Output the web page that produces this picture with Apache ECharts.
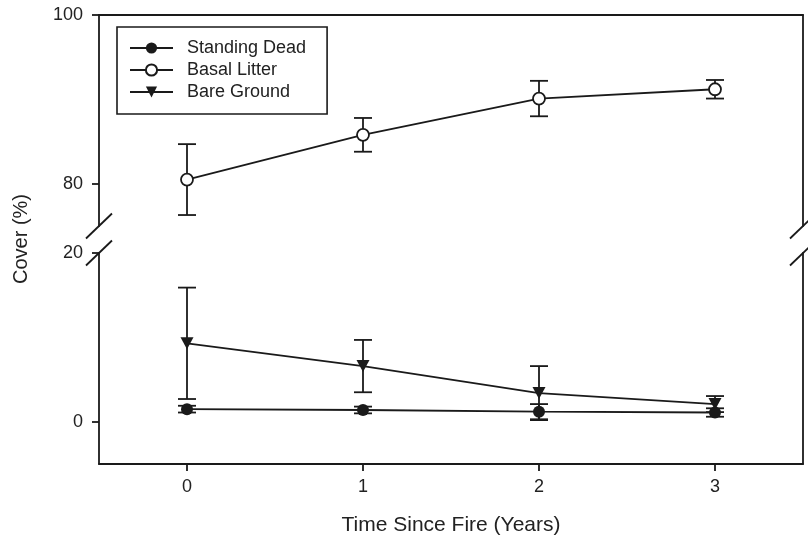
<!DOCTYPE html>
<html>
<head>
<meta charset="utf-8">
<script src="https://cdn.jsdelivr.net/npm/echarts@6/dist/echarts.min.js"></script>
<style>
html,body{margin:0;padding:0;background:#fff;}
#chart{width:808px;height:539px;}
</style>
</head>
<body>
<div id="chart"></div>
<script>
// ---- data ----
const categories = ['0', '1', '2', '3'];
const standingDead = [1.5, 1.4, 1.2, 1.1];
const standingDeadErr = [0.4, 0.4, 0.9, 0.5];
const basalLitter = [80.5, 85.8, 90.1, 91.2];
const basalLitterErr = [4.2, 2.0, 2.1, 1.1];
const bareGround = [9.3, 6.6, 3.4, 2.1];
const bareGroundErr = [6.6, 3.1, 3.2, 0.95];
const upperTicks = [80, 100];
const lowerTicks = [0, 20];
const upperRange = [75, 100];
const lowerRange = [-5, 20];

// ---- layout ----
const LEFT = 99, RIGHT = 5, PLOT_W = 808 - LEFT - RIGHT;
const INK = '#1a1a1a';
const LW = 1.8;
const FONT = 'Liberation Sans, Arial, sans-serif';

const chart = echarts.init(document.getElementById('chart'), null, {renderer: 'canvas'});

function errData(mean, err) {
  return mean.map((m, i) => [i, m, err[i]]);
}
function errRender(params, api) {
  const x = api.value(0), m = api.value(1), e = api.value(2);
  const t = api.coord([x, m + e]);
  const b = api.coord([x, m - e]);
  const hw = 9;
  const st = {stroke: INK, lineWidth: LW};
  return {
    type: 'group',
    children: [
      {type: 'line', shape: {x1: t[0], y1: t[1], x2: b[0], y2: b[1]}, style: st},
      {type: 'line', shape: {x1: t[0] - hw, y1: t[1], x2: t[0] + hw, y2: t[1]}, style: st},
      {type: 'line', shape: {x1: b[0] - hw, y1: b[1], x2: b[0] + hw, y2: b[1]}, style: st}
    ]
  };
}

const axisLineStyle = {show: true, onZero: false, lineStyle: {color: INK, width: LW}};
const noLabel = {show: false};
const noTick = {show: false};
const noSplit = {show: false};

const option = {
  backgroundColor: '#fff',
  animation: false,
  grid: [
    {left: LEFT, width: PLOT_W, top: 15, height: 211},
    {left: LEFT, width: PLOT_W, top: 253, height: 211}
  ],
  xAxis: [
    {type: 'category', gridIndex: 0, data: categories, position: 'top', boundaryGap: true,
     axisLine: axisLineStyle, axisTick: noTick, axisLabel: noLabel, splitLine: noSplit},
    {type: 'category', gridIndex: 1, data: categories, position: 'bottom', boundaryGap: true,
     axisLine: axisLineStyle,
     axisTick: {show: true, alignWithLabel: true, length: 7, inside: false, lineStyle: {color: INK, width: LW}},
     axisLabel: {show: true, color: '#222', fontFamily: FONT, fontSize: 18, margin: 14},
     splitLine: noSplit}
  ],
  yAxis: [
    {type: 'value', gridIndex: 0, min: upperRange[0], max: upperRange[1], position: 'left',
     axisLine: axisLineStyle,
     axisTick: {show: true, length: 7, inside: false, customValues: upperTicks, lineStyle: {color: INK, width: LW}},
     axisLabel: {show: true, customValues: upperTicks, color: '#222', fontFamily: FONT, fontSize: 18, margin: 16},
     splitLine: noSplit},
    {type: 'value', gridIndex: 0, min: upperRange[0], max: upperRange[1], position: 'right',
     axisLine: axisLineStyle, axisTick: noTick, axisLabel: noLabel, splitLine: noSplit},
    {type: 'value', gridIndex: 1, min: lowerRange[0], max: lowerRange[1], position: 'left',
     axisLine: axisLineStyle,
     axisTick: {show: true, length: 7, inside: false, customValues: lowerTicks, lineStyle: {color: INK, width: LW}},
     axisLabel: {show: true, customValues: lowerTicks, color: '#222', fontFamily: FONT, fontSize: 18, margin: 16},
     splitLine: noSplit},
    {type: 'value', gridIndex: 1, min: lowerRange[0], max: lowerRange[1], position: 'right',
     axisLine: axisLineStyle, axisTick: noTick, axisLabel: noLabel, splitLine: noSplit}
  ],
  legend: {
    data: ['Standing Dead', 'Basal Litter', 'Bare Ground'],
    orient: 'vertical',
    left: 117, top: 27,
    itemWidth: 43, itemHeight: 14, itemGap: 0,
    padding: [10, 21, 11, 12],
    borderColor: INK, borderWidth: 1.6,
    textStyle: {color: '#222', fontFamily: FONT, fontSize: 18, lineHeight: 22, padding: [0, 0, 0, 9]},
    selectedMode: false
  },
  series: [
    {type: 'custom', name: 'errBasal', xAxisIndex: 0, yAxisIndex: 0, z: 1,
     renderItem: errRender, data: errData(basalLitter, basalLitterErr), encode: {x: 0, y: 1}, silent: true},
    {type: 'custom', name: 'errBare', xAxisIndex: 1, yAxisIndex: 2, z: 1,
     renderItem: errRender, data: errData(bareGround, bareGroundErr), encode: {x: 0, y: 1}, silent: true},
    {type: 'custom', name: 'errDead', xAxisIndex: 1, yAxisIndex: 2, z: 1,
     renderItem: errRender, data: errData(standingDead, standingDeadErr), encode: {x: 0, y: 1}, silent: true},
    {type: 'line', name: 'Basal Litter', xAxisIndex: 0, yAxisIndex: 0, z: 3,
     data: basalLitter, symbol: 'circle', symbolSize: 12, showAllSymbol: true,
     lineStyle: {color: INK, width: LW},
     itemStyle: {color: '#fff', borderColor: INK, borderWidth: LW}},
    {type: 'line', name: 'Bare Ground', xAxisIndex: 1, yAxisIndex: 2, z: 3,
     data: bareGround, symbol: 'triangle', symbolRotate: 180, symbolSize: [13, 12], showAllSymbol: true,
     lineStyle: {color: INK, width: LW},
     itemStyle: {color: INK, borderColor: INK, borderWidth: 0}},
    {type: 'line', name: 'Standing Dead', xAxisIndex: 1, yAxisIndex: 2, z: 4,
     data: standingDead, symbol: 'circle', symbolSize: 12, showAllSymbol: true,
     lineStyle: {color: INK, width: LW},
     itemStyle: {color: INK, borderColor: INK, borderWidth: 0}}
  ]
};
chart.setOption(option);

// axis titles and break marks
const yUpperBottom = chart.convertToPixel({yAxisIndex: 0}, upperRange[0]);
const yLowerTop = chart.convertToPixel({yAxisIndex: 2}, lowerRange[1]);
const xL = LEFT, xR = LEFT + PLOT_W;
function slash(x, y) {
  return {type: 'line', shape: {x1: x - 13, y1: y + 12.5, x2: x + 13, y2: y - 12.5},
          style: {stroke: INK, lineWidth: LW}, z: 10};
}
chart.setOption({
  graphic: [
    slash(xL, yUpperBottom), slash(xL, yLowerTop),
    slash(xR, yUpperBottom), slash(xR, yLowerTop),
    {type: 'text', x: 21, y: 239, rotation: Math.PI / 2,
     style: {text: 'Cover (%)', align: 'center', verticalAlign: 'middle', fill: '#222',
             font: '20px ' + FONT}, z: 10},
    {type: 'text', x: (xL + xR) / 2, y: 525,
     style: {text: 'Time Since Fire (Years)', align: 'center', verticalAlign: 'middle', fill: '#222',
             font: '21px ' + FONT}, z: 10}
  ]
});
</script>
</body>
</html>
